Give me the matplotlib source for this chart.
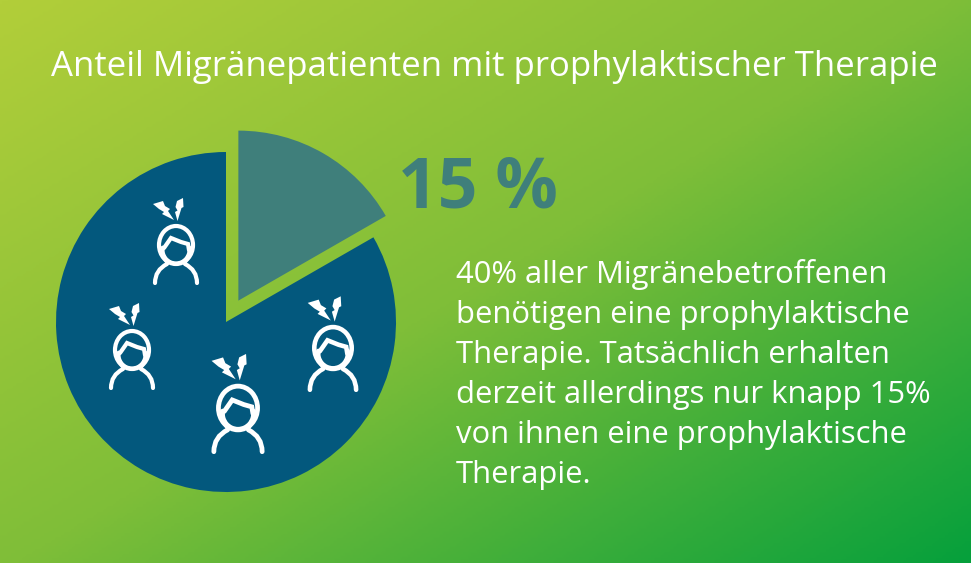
import numpy as np
import matplotlib
matplotlib.use('Agg')
import matplotlib.pyplot as plt
from matplotlib.colors import LinearSegmentedColormap
from matplotlib.patches import Arc, Ellipse, PathPatch, Polygon
from matplotlib.path import Path

W, H = 971, 563

title = 'Anteil Migränepatienten mit prophylaktischer Therapie'
big_label = '15 %'
body_lines = [
    '40% aller Migränebetroffenen',
    'benötigen eine prophylaktische',
    'Therapie. Tatsächlich erhalten',
    'derzeit allerdings nur knapp 15%',
    'von ihnen eine prophylaktische',
    'Therapie.',
]
# slice as drawn in the picture (about 60 degrees, not quite the labelled 15)
shares = [16.7, 83.3]
slice_colors = ['#3F7F7B', '#03587D']

# head centre x, y in pixels, scale
icons = [(176, 245, 1.0), (132, 350, 1.0), (238, 408, 1.15), (333, 348, 1.1)]


def draw_person(ax, cx, cy, s):
    """ White head icon with two lightning bolts, y goes down in icon units. """
    lw = 3.0 * s
    def pt(x, y):
        return (cx + x * s, H - (cy + y * s))
    kw = dict(fill=False, ec='white', lw=lw, capstyle='round', zorder=3)
    ax.add_patch(Ellipse(pt(0, 0), 34 * s, 38 * s, **kw))
    # face
    ax.add_patch(Arc(pt(0, 5), 27 * s, 27 * s, theta1=170, theta2=370, **kw))
    hair = [(-12, 3), (-5, -7), (5, -3), (12, -1), (13, 5)]
    ax.add_patch(PathPatch(Path([pt(*p) for p in hair]), **kw))
    # neck and shoulders
    ax.add_patch(PathPatch(Path([pt(-15, 7), pt(-9, 17)]), **kw))
    ax.add_patch(PathPatch(Path([pt(15, 7), pt(9, 17)]), **kw))
    ax.add_patch(PathPatch(Path([pt(-21, 38), pt(-21, 25), pt(-9, 19)],
                                [Path.MOVETO, Path.CURVE3, Path.CURVE3]), **kw))
    ax.add_patch(PathPatch(Path([pt(21, 38), pt(21, 25), pt(9, 19)],
                                [Path.MOVETO, Path.CURVE3, Path.CURVE3]), **kw))
    # bolts, a bit wider than the first try
    left_bolt = [(-23, -41), (-13, -44), (-11, -39), (-6, -36), (-8, -34),
                 (-2, -25), (-14, -31), (-12, -33), (-17, -36)]
    right_bolt = [(1, -44), (7, -47), (7.5, -38), (5.5, -37), (1.5, -24),
                  (-1, -33), (1.5, -34.5), (-0.5, -38)]
    ax.add_patch(Polygon([pt(*p) for p in left_bolt], fc='white', ec='none', zorder=3))
    ax.add_patch(Polygon([pt(*p) for p in right_bolt], fc='white', ec='none', zorder=3))


fig = plt.figure(figsize=(W / 100, H / 100), dpi=100)
ax = fig.add_axes([0, 0, 1, 1])

# diagonal background gradient, light in the top left corner
yy, xx = np.mgrid[0:1:200j, 0:1:300j]
t = (xx * W * 0.6 + yy * H) / (W * 0.6 + H)
cmap = LinearSegmentedColormap.from_list('bg', ['#B2CE3A', '#7FBE38', '#06A03C'])
ax.imshow(t, cmap=cmap, extent=(0, W, 0, H), origin='upper', aspect='auto', zorder=0,
          vmin=0, vmax=1)

# pie; explode is in data units because the radius is in pixels
wedges, _ = ax.pie(shares, colors=slice_colors, startangle=90, counterclock=False,
                   radius=170, center=(226, H - 322), explode=[24.7, 0], frame=True)
for w in wedges:
    w.set_zorder(2)

ax.set_xlim(0, W)
ax.set_ylim(0, H)
ax.set_aspect('auto')
ax.axis('off')

for cx, cy, s in icons:
    draw_person(ax, cx, cy, s)

font = 'Open Sans'
ax.text(494, H - 67, title, color='white', fontsize=25, family=font, ha='center', va='center')
ax.text(398, H - 208, big_label, color='#3F7F7B', fontsize=50, family=font,
        fontweight='bold', ha='left', va='baseline')
for i, line in enumerate(body_lines):
    ax.text(456, H - (283 + 40 * i), line, color='white', fontsize=22.3, family=font,
            ha='left', va='baseline')

fig.savefig('out.png', dpi=100)
